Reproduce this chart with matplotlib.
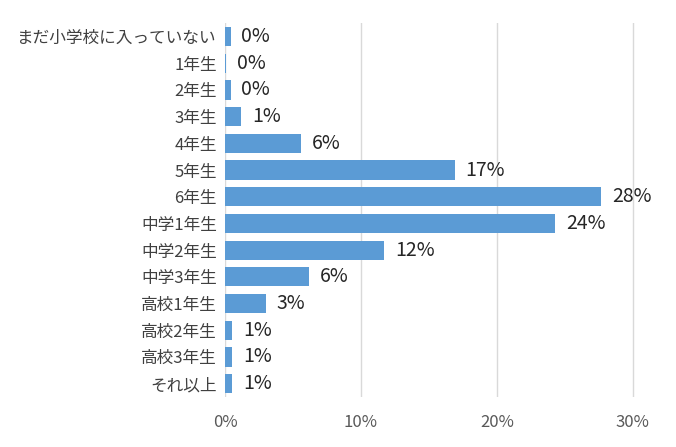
import matplotlib
matplotlib.use("Agg")
import matplotlib.pyplot as plt
from matplotlib.ticker import FuncFormatter

plt.rcParams["font.family"] = "Noto Sans CJK JP"

categories = ["まだ小学校に入っていない", "1年生", "2年生", "3年生", "4年生", "5年生", "6年生",
              "中学1年生", "中学2年生", "中学3年生", "高校1年生", "高校2年生", "高校3年生", "それ以上"]
values = [0.4, 0.1, 0.4, 1.2, 5.6, 16.9, 27.7, 24.3, 11.7, 6.2, 3.0, 0.5, 0.5, 0.5]
labels = ["0%", "0%", "0%", "1%", "6%", "17%", "28%", "24%", "12%", "6%", "3%", "1%", "1%", "1%"]

fig = plt.figure(figsize=(6.76, 4.47), dpi=100)
ax = fig.add_axes([0.333, 0.112, 0.643, 0.836])
y = list(range(len(categories)))
ax.barh(y, values, height=0.72, color="#5B9BD5", zorder=2)
for yi, v, lab in zip(y, values, labels):
    ax.text(v + 0.8, yi, lab, va="center", ha="left", fontsize=14, color="#262626")

ax.set_yticks(y)
ax.set_yticklabels(categories, fontsize=12, color="#404040")
ax.set_ylim(len(categories) - 0.5, -0.5)
ax.set_xlim(0, 32)
ax.set_xticks([0, 10, 20, 30])
ax.xaxis.set_major_formatter(FuncFormatter(lambda v, p: f"{int(v)}%"))
ax.tick_params(axis="x", labelsize=12, colors="#595959", length=0, pad=12)
ax.tick_params(axis="y", length=0, pad=6)
ax.grid(axis="x", color="#D9D9D9", linewidth=1, zorder=0)
for s in ax.spines.values():
    s.set_visible(False)

fig.savefig("out.png", dpi=100)
